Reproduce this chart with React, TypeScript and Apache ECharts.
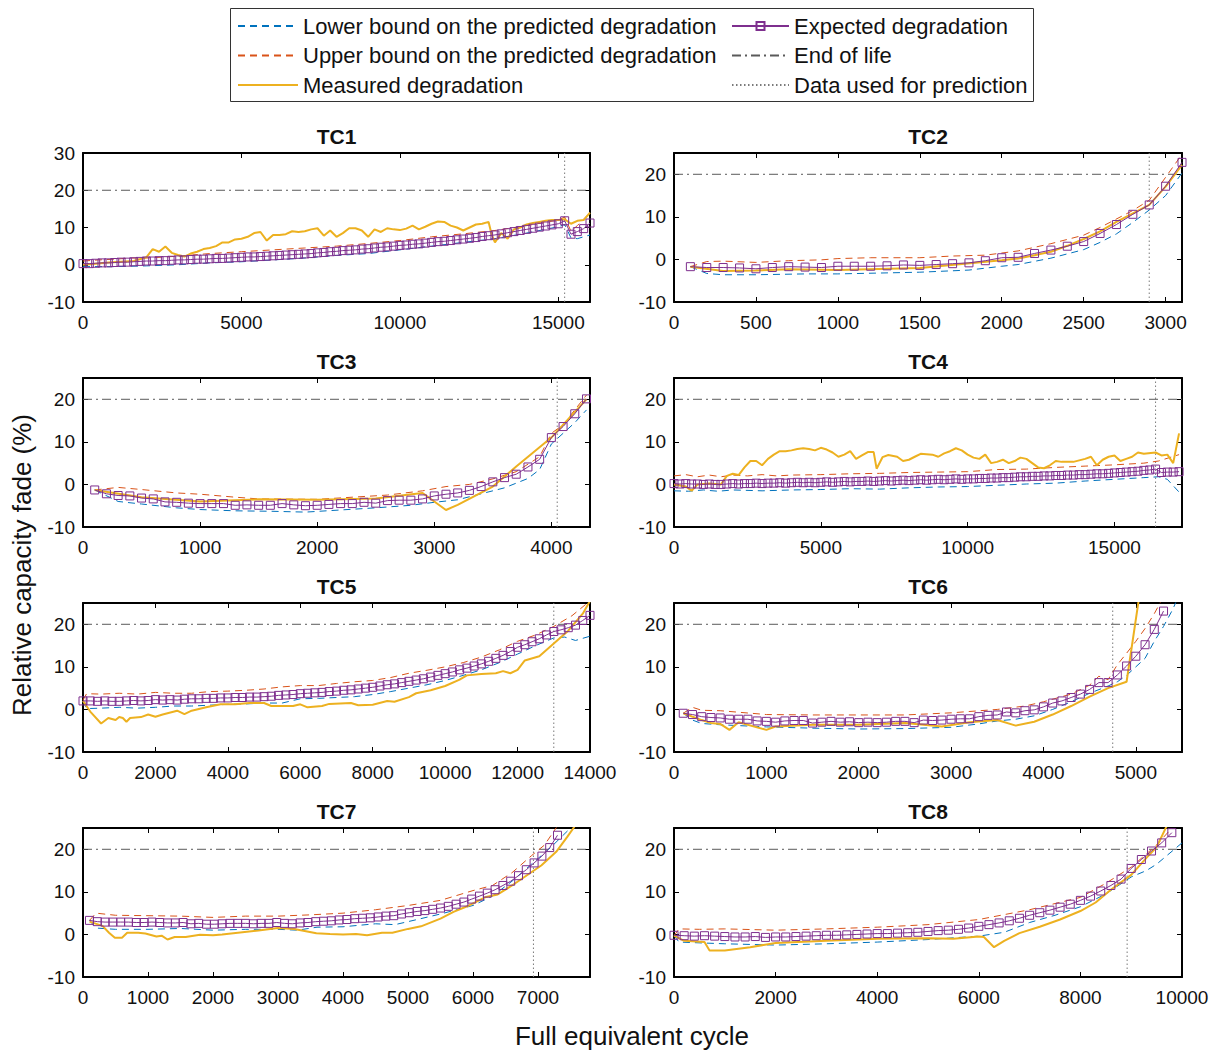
import React, { useEffect, useRef } from 'react';
import * as echarts from 'echarts';

const FONT = 'Liberation Sans, Arial, sans-serif';

const TITLES = ['TC1', 'TC2', 'TC3', 'TC4', 'TC5', 'TC6', 'TC7', 'TC8'];
const X_MAX = [16000, 3100, 4330, 17300, 14000, 5500, 7800, 10000];
const X_INTERVAL = [5000, 500, 1000, 5000, 2000, 1000, 1000, 2000];
const Y_MAX = [30, 25, 25, 25, 25, 25, 25, 25];
const Y_MIN = -10;
const Y_INTERVAL = 10;
const PRED_CUTOFF = [15200, 2900, 4050, 16400, 13000, 4750, 6930, 8920];
const END_OF_LIFE = 20;

const N_LOW = 'Lower bound on the predicted degradation';
const N_UP = 'Upper bound on the predicted degradation';
const N_MEAS = 'Measured degradation';
const N_EXP = 'Expected degradation';
const N_EOL = 'End of life';
const N_CUT = 'Data used for prediction';

// ---------- Expected degradation (regular cycle grid: start, step) ----------
const EXP_START = [0, 100, 100, 0, 0, 100, 100, 0];
const EXP_STEP = [200, 100, 100, 200, 200, 100, 120, 200];

const TC1_EXP = [
  0.3, 0.3, 0.4, 0.5, 0.5, 0.6, 0.7, 0.7, 0.8, 0.9, 1.0,
  1.0, 1.1, 1.1, 1.2, 1.3, 1.3, 1.4, 1.5, 1.5, 1.6, 1.7, 1.7, 1.8, 1.9, 2.0,
  2.1, 2.1, 2.2, 2.3, 2.4, 2.5, 2.6, 2.7, 2.8, 2.9, 3.0, 3.2,
  3.3, 3.5, 3.6, 3.8, 3.9, 4.0, 4.2, 4.3, 4.5, 4.7, 4.8, 5.0, 5.2,
  5.3, 5.5, 5.6, 5.8, 6.0, 6.2, 6.3, 6.5, 6.7, 6.9, 7.1, 7.3,
  7.6, 7.8, 8.0, 8.3, 8.6, 8.9, 9.2, 9.5, 9.8, 10.1, 10.4, 10.7, 11.0, 11.8,
  8.2, 8.9, 9.7, 11.2,
];
const TC2_EXP = [
  -1.7, -1.9, -1.9, -2.0, -2.2, -1.9, -1.7, -1.8, -1.9, -1.6, -1.6, -1.6, -1.5, -1.3, -1.4, -1.2,
  -1.0, -0.8, -0.3, 0.4, 0.5, 1.4, 2.2, 3.1, 4.2, 6.1, 8.2, 10.6, 12.8, 17.2, 22.8,
];
const TC3_EXP = [
  -1.3, -2.2, -2.6, -2.7, -3.2, -3.4, -4.1, -4.2, -4.4, -4.5, -4.5, -4.5, -4.9, -4.8, -4.9, -4.9,
  -4.5, -4.8, -5.0, -4.9, -4.7, -4.5, -4.5, -4.2, -4.4, -3.8, -3.7, -3.7, -3.4, -2.7, -2.3, -2.0,
  -1.4, -0.5, 0.6, 1.6, 2.4, 4.1, 5.9, 11.0, 13.6, 16.6, 20.1,
];
const TC4_EXP = [
  0.2, 0.1, 0.2, 0.1, 0.1, 0.0, 0.1, 0.0, 0.0,
  0.1, 0.2, 0.1, 0.2, 0.2, 0.3, 0.2, 0.3, 0.3, 0.4, 0.3, 0.4, 0.5, 0.4, 0.5, 0.4, 0.5,
  0.6, 0.5, 0.6, 0.7, 0.6, 0.7, 0.7, 0.8, 0.7, 0.8, 0.9, 0.8, 0.9, 1.0, 0.9, 1.0, 1.1, 1.0, 1.1, 1.2, 1.1, 1.2, 1.3, 1.2, 1.3,
  1.3, 1.4, 1.4, 1.5, 1.5, 1.6, 1.6, 1.7, 1.8, 1.8, 1.9, 1.9, 2.0, 2.0, 2.1, 2.1, 2.2, 2.2, 2.3, 2.3, 2.4, 2.5, 2.5, 2.6, 2.7,
  2.8, 2.9, 3.0, 3.1, 3.3, 3.4, 3.6,
  2.8, 2.9, 2.9, 3.0,
];
const TC5_EXP = [
  2.0, 2.0, 1.9, 2.0, 1.9, 1.9,
  2.0, 2.1, 2.0, 2.1, 2.3,
  2.2, 2.3, 2.2, 2.4, 2.5,
  2.5, 2.6, 2.6, 2.7, 2.7,
  2.8, 2.8, 2.9, 2.9, 3.0,
  3.1, 3.3, 3.4, 3.5, 3.7,
  3.8, 3.9, 4.0, 4.2, 4.3,
  4.5, 4.6, 4.8, 5.0, 5.2,
  5.5, 5.8, 6.0, 6.3, 6.6,
  6.9, 7.2, 7.6, 8.0, 8.4,
  8.8, 9.3, 9.7, 10.2, 10.7,
  11.3, 12.0, 12.7, 13.6, 14.6,
  15.2, 15.9, 16.6, 17.5, 18.3,
  18.7, 19.2, 19.8, 20.9, 22.1,
];
const TC6_EXP = [
  -0.9, -1.2, -1.7, -1.9, -2.0, -2.3, -2.3, -2.3, -2.7, -2.8, -3.0, -2.7, -2.6, -2.6, -3.2, -3.0,
  -2.8, -3.0, -2.9, -3.1, -3.0, -3.1, -3.0, -2.8, -2.8, -3.1, -2.5, -2.6, -2.5, -2.3, -2.2, -2.2,
  -1.7, -1.4, -1.3, -0.6, -0.8, -0.3, -0.1, 0.6, 1.5, 2.0, 2.8, 3.6, 4.7, 6.3, 6.3, 8.1, 10.2,
  12.5, 15.2, 18.8, 23.1,
];
const TC7_EXP = [
  3.3, 3.0, 2.9, 2.9, 2.9, 2.9, 2.8, 2.8, 2.9, 2.8, 2.7, 2.7, 2.8, 2.5, 2.6, 2.4,
  2.4, 2.5, 2.6, 2.6, 2.6, 2.5, 2.6, 2.6, 2.8, 2.6, 2.5, 2.7, 2.8, 3.0, 3.1, 3.2,
  3.4, 3.5, 3.7, 3.8, 3.9, 4.1, 4.3, 4.4, 4.8, 5.1, 5.4, 5.6, 5.9, 6.2, 6.6, 7.1,
  7.6, 8.3, 9.0, 9.7, 10.5, 11.5, 12.5, 13.8, 15.2, 16.8, 18.4, 20.4, 23.3,
];
const TC8_EXP = [
  -0.2, -0.3, -0.4, -0.3, -0.4, -0.5,
  -0.6, -0.6, -0.5, -0.7, -0.6,
  -0.6, -0.5, -0.4, -0.3, -0.2,
  -0.2, -0.1, 0.0, 0.1, 0.2,
  0.2, 0.3, 0.4, 0.5, 0.7,
  0.9, 1.0, 1.2, 1.5, 1.9,
  2.3, 2.7, 3.2, 3.8, 4.5,
  5.1, 5.7, 6.4, 7.1, 8.0,
  9.0, 10.2, 11.5, 13.0, 15.5,
  17.6, 19.6, 21.5, 23.9,
];

// ---------- Lower bound [cycle, %] ----------
const TC1_LOW = [[0, -0.5], [1000, -0.5], [2000, -0.3], [3000, 0], [4000, 0.5], [5000, 0.8], [6000, 1.3], [7000, 1.8], [8000, 2.5], [9000, 3.0], [10000, 4.0], [11000, 5.0], [12000, 6.0], [13000, 7.0], [14000, 8.5], [15000, 10.2], [15200, 10.8], [15400, 7.2], [15600, 7], [16000, 8]];
const TC2_LOW = [[100, -1.7], [200, -3.3], [300, -3.6], [500, -3.6], [800, -3.4], [1000, -3.4], [1500, -3.0], [1800, -2.5], [2000, -1.6], [2100, -1.2], [2300, 0.3], [2500, 2.3], [2600, 4.0], [2700, 6.0], [2800, 8.7], [2900, 11.6], [3000, 15], [3100, 20.3]];
const TC3_LOW = [[100, -1.3], [300, -4.0], [500, -4.6], [800, -5.5], [1000, -5.9], [1300, -6.2], [1600, -6.3], [1900, -6.5], [2200, -6.0], [2500, -5.5], [2800, -4.9], [3000, -4.2], [3200, -3.6], [3400, -2.2], [3600, -0.8], [3800, 1.4], [3900, 3.5], [4000, 9.5], [4100, 12], [4200, 14.5], [4300, 17.5]];
const TC4_LOW = [[0, -1.5], [500, -1.6], [1000, -1.3], [1500, -1.6], [2000, -1.3], [3000, -1.5], [4000, -1.3], [5000, -1.2], [6000, -1.0], [7000, -1.1], [8000, -0.8], [9000, -0.6], [10000, -0.5], [11000, -0.2], [12000, 0.1], [13000, 0.3], [14000, 0.8], [15000, 1.2], [16000, 1.6], [16500, 1.8], [16800, 1.2], [17200, -1.8]];
const TC5_LOW = [[0, 2.0], [100, 0.2], [500, 0.3], [1000, 0.5], [1500, 0.3], [2000, 0.5], [2500, 0.8], [3000, 0.8], [3500, 1.0], [4000, 1.2], [4500, 1.3], [5000, 1.5], [5500, 1.5], [6000, 2.5], [6500, 2.6], [7000, 2.8], [7500, 3.0], [8000, 3.5], [8500, 4.2], [9000, 5], [9500, 5.8], [10000, 6.8], [10500, 8], [11000, 9.3], [11500, 11], [12000, 13], [12500, 15], [13000, 16.8], [13300, 17], [13600, 16.2], [14000, 17.2]];
const TC6_LOW = [[100, -0.9], [200, -2.5], [300, -3.3], [500, -3.6], [1000, -4.1], [1500, -4.4], [2000, -4.6], [2500, -4.5], [3000, -4.2], [3300, -3.4], [3500, -2.7], [3700, -2.3], [3900, -1.5], [4100, 0], [4300, 1.8], [4500, 3.8], [4700, 5.5], [4800, 6.5], [4900, 8.0], [5000, 10], [5100, 12], [5200, 16], [5300, 19.5], [5400, 23.5], [5450, 26]];
const TC7_LOW = [[100, 3.3], [200, 1.5], [500, 1.2], [1000, 1.2], [1500, 1.4], [2000, 1.0], [2500, 1.2], [3000, 1.2], [3300, 1.0], [3600, 1.7], [4000, 1.8], [4500, 2.5], [4800, 2.3], [5000, 3.0], [5500, 4.8], [6000, 6.8], [6300, 9.0], [6600, 12.5], [6900, 16.5], [7200, 20.5], [7500, 25]];
const TC8_LOW = [[0, -0.3], [100, -1.8], [1000, -2.2], [2000, -2.5], [3000, -2.2], [4000, -1.8], [5000, -1.2], [6000, -0.4], [6500, 0.5], [7000, 2.8], [7500, 4.5], [8000, 6.5], [8500, 9.5], [9000, 13.5], [9300, 15], [9500, 16.5], [10000, 21.5]];

// ---------- Upper bound [cycle, %] ----------
const TC1_UP = [[0, 1.0], [500, 1.3], [1000, 1.5], [1500, 1.8], [2000, 1.8], [3000, 2.3], [4000, 3.0], [5000, 3.5], [6000, 4.0], [7000, 4.5], [8000, 5.0], [9000, 5.7], [10000, 6.5], [11000, 7.5], [12000, 8.3], [13000, 9.2], [14000, 10.5], [15000, 12], [15200, 12.8], [15400, 9], [15600, 10.5], [16000, 14]];
const TC2_UP = [[100, -1.7], [200, -0.5], [300, -0.4], [500, -0.7], [700, -0.3], [900, -0.1], [1000, 0.2], [1200, 0.4], [1500, 0.4], [1700, 0.8], [1900, 1.0], [2000, 1.5], [2100, 2.0], [2300, 3.7], [2500, 5.7], [2600, 7.5], [2800, 11.5], [2900, 13.9], [3000, 19.3], [3100, 24.7]];
const TC3_UP = [[100, -1.3], [300, -0.7], [500, -1.2], [800, -2.0], [1000, -2.3], [1300, -3.0], [1500, -3.4], [2000, -3.5], [2300, -3.0], [2600, -2.5], [2900, -1.5], [3100, -0.5], [3300, 0], [3500, 1.3], [3700, 3.0], [3900, 6.5], [4000, 12], [4100, 14], [4200, 17.5], [4300, 21]];
const TC4_UP = [[0, 2.0], [400, 2.3], [800, 1.8], [1200, 2.2], [1600, 1.8], [2000, 2.2], [2500, 2.0], [3000, 2.3], [3500, 2.0], [4000, 2.2], [5000, 2.3], [6000, 2.5], [7000, 2.6], [8000, 2.8], [9000, 2.9], [10000, 3.0], [11000, 3.5], [12000, 3.6], [13000, 4.0], [14000, 4.3], [15000, 4.6], [16000, 5.0], [16500, 5.5], [17200, 7.0]];
const TC5_UP = [[0, 2.2], [100, 3.7], [500, 3.6], [1000, 3.8], [1500, 3.6], [2000, 4.0], [2500, 3.8], [3000, 3.8], [3500, 4.2], [4000, 4.3], [4500, 4.5], [5000, 4.8], [5500, 5.3], [6000, 5.6], [6500, 5.6], [7000, 6.1], [7500, 6.5], [8000, 6.8], [8500, 7.5], [9000, 8.5], [9500, 9.2], [10000, 10], [10500, 11], [11000, 12.3], [11500, 14], [12000, 16], [12500, 17.5], [13000, 19.5], [13500, 22], [14000, 25.5]];
const TC6_UP = [[100, -0.9], [200, 0.5], [300, -0.2], [500, -0.3], [1000, -1.2], [1500, -1.3], [2000, -1.3], [2500, -1.3], [3000, -0.8], [3500, 0], [3800, 0.8], [4000, 1.8], [4300, 3.6], [4500, 5.7], [4600, 7.8], [4700, 7.0], [4800, 10.5], [4900, 13.2], [5000, 16], [5100, 19], [5200, 22.5], [5300, 26.5]];
const TC7_UP = [[100, 3.3], [200, 5.0], [500, 4.5], [1000, 4.4], [1500, 4.3], [2000, 4.0], [2500, 4.3], [3000, 4.3], [3500, 4.6], [4000, 5.0], [4500, 5.8], [5000, 6.8], [5500, 8.0], [6000, 10.3], [6300, 11.5], [6600, 14.5], [6900, 18.5], [7100, 21], [7300, 25.5]];
const TC8_UP = [[0, -0.3], [100, 1.3], [500, 1.2], [1000, 1.3], [2000, 1.0], [3000, 1.3], [4000, 1.7], [5000, 2.3], [6000, 3.5], [7000, 5.8], [8000, 8.7], [8500, 12], [9000, 15.8], [9500, 21], [9800, 25]];

// ---------- Measured degradation [cycle, %] ----------
const TC1_MEAS = [[0, 0], [400, 0.3], [800, 0.6], [1200, 0.8], [1600, 1], [2000, 2], [2200, 4.2], [2400, 3.5], [2600, 4.9], [2800, 3.2], [3000, 2.6], [3200, 2.2], [3400, 3], [3600, 3.5], [3800, 4.2], [4000, 4.5], [4200, 5], [4400, 6], [4600, 6], [4800, 6.8], [5000, 7], [5200, 7.5], [5400, 8.5], [5600, 8.8], [5800, 6.5], [6000, 8], [6200, 8], [6400, 8.2], [6600, 9], [6800, 8.8], [7000, 9], [7200, 9.5], [7400, 9.8], [7600, 7.8], [7800, 9.2], [8000, 7.5], [8200, 8.5], [8400, 9.8], [8600, 9.8], [8800, 9.2], [9000, 7.5], [9200, 9.5], [9400, 8.8], [9600, 9.8], [9800, 9.5], [10000, 9.3], [10200, 9.7], [10400, 10.5], [10600, 9.5], [10800, 10.2], [11000, 11], [11200, 11.6], [11400, 11.5], [11600, 10.5], [11800, 10], [12000, 9.2], [12200, 10], [12400, 10.8], [12600, 11], [12800, 11.5], [12900, 8], [13000, 6], [13200, 8.5], [13400, 7], [13600, 9.5], [13800, 10], [14000, 10.8], [14200, 11.2], [14400, 11.5], [14600, 11.8], [14800, 12], [15000, 12], [15200, 12.2], [15400, 11], [15600, 11.8], [15800, 12], [16000, 14]];
const TC2_MEAS = [[100, -1.7], [300, -2.7], [500, -2.6], [700, -2.3], [1000, -2.5], [1500, -2.0], [2000, -0.2], [2100, 0.2], [2200, 1.0], [2300, 1.8], [2400, 3.2], [2500, 4.8], [2600, 6.6], [2700, 8.8], [2800, 10.8], [2900, 12.8], [3000, 17.1], [3100, 22.2]];
const TC3_MEAS = [[100, -1.3], [500, -3.0], [1000, -4.0], [1500, -3.5], [2000, -3.6], [2500, -3.3], [2900, -2.0], [3100, -6.0], [3200, -4.8], [3500, -0.5], [3700, 4.2], [4000, 11.0], [4300, 20]];
const TC4_MEAS = [[0, 0], [400, -0.5], [600, -1.5], [800, 0], [1200, 0.2], [1600, 0], [1800, 2], [2000, 2.5], [2200, 2.2], [2400, 4], [2600, 5.5], [2800, 5.5], [3000, 4.5], [3200, 6], [3400, 7], [3600, 7.8], [3800, 7.8], [4000, 8], [4200, 8.3], [4400, 8.5], [4600, 8.3], [4800, 8], [5000, 8.6], [5200, 8.2], [5400, 7.5], [5600, 6.5], [5800, 7], [6000, 7.8], [6200, 6], [6400, 6.8], [6600, 7.6], [6800, 7.6], [6900, 3.7], [7100, 6.4], [7300, 6.9], [7600, 6.5], [7800, 5.5], [8000, 5.8], [8200, 6.5], [8400, 7.2], [8600, 7.1], [8800, 7], [9000, 6.5], [9200, 7.3], [9400, 7.8], [9600, 8.5], [9800, 8], [10000, 7], [10200, 6.3], [10400, 6], [10600, 7], [10800, 5], [11000, 5.3], [11200, 5.8], [11400, 5], [11600, 5.5], [11800, 6.3], [12000, 6], [12200, 5], [12400, 4], [12600, 3.8], [12800, 4.5], [13000, 5.5], [13200, 5.3], [13600, 5.3], [14000, 6], [14200, 6.5], [14400, 4.5], [14600, 5.8], [14800, 6.5], [15000, 6.8], [15200, 5.5], [15400, 6], [15600, 6.5], [15800, 7.5], [16000, 7.2], [16400, 7.5], [16600, 6.8], [16800, 7], [17000, 5], [17200, 12]];
const TC5_MEAS = [[0, 2], [200, -0.5], [500, -3.3], [700, -2], [900, -2.5], [1000, -1.8], [1100, -2], [1200, -2.9], [1300, -2], [1600, -1.8], [1800, -1.2], [2000, -1.7], [2200, -1.2], [2600, -0.3], [2800, -1.1], [3000, -0.3], [3400, 0.5], [3800, 1.2], [4200, 1.2], [4600, 1.5], [5000, 1.5], [5200, 0.8], [5800, 0.8], [6000, 1.2], [6200, 0.5], [6600, 0.8], [6800, 1.3], [7400, 1.5], [7600, 1.0], [8000, 1.1], [8400, 2.0], [8600, 1.8], [9000, 2.9], [9200, 3.8], [9600, 4.5], [10000, 5.5], [10400, 7.0], [10600, 8.0], [11000, 8.3], [11400, 8.5], [11600, 9.0], [11800, 8.5], [12000, 9.3], [12200, 11.5], [12600, 12.5], [13000, 15.5], [13400, 18.5], [13800, 22.5], [14000, 25.5]];
const TC6_MEAS = [[100, -0.9], [300, -2.5], [400, -3.2], [500, -3.4], [600, -4.8], [700, -3.0], [1000, -4.8], [1100, -4.0], [1500, -3.6], [2000, -3.6], [2500, -3.2], [2900, -4.0], [3200, -3.0], [3500, -2.5], [3700, -3.8], [3900, -2.9], [4100, -1.2], [4300, 0.8], [4500, 3.0], [4700, 5.0], [4900, 6.5], [5030, 25.5]];
const TC7_MEAS = [[100, 3.0], [300, 2.0], [400, 0.4], [490, -0.8], [600, -0.8], [680, 0.4], [850, 0.4], [960, 0.2], [1130, -0.5], [1210, -0.3], [1300, -1.2], [1410, -0.6], [1580, -0.6], [1800, -0.1], [2000, -0.2], [2140, 0], [2700, 0.9], [3000, 1.5], [3250, 1.3], [3590, 0.3], [3800, 0.1], [4000, 0], [4200, 0.1], [4370, -0.2], [4600, 0.4], [4760, 0.4], [5000, 1.3], [5200, 1.9], [5500, 3.7], [5700, 5.3], [5940, 6.8], [6200, 8.8], [6380, 9.4], [6600, 11.5], [6830, 13.9], [7050, 16.2], [7280, 19.4], [7450, 22.9], [7560, 25.3]];
const TC8_MEAS = [[0, -0.3], [200, -1.5], [600, -1.8], [700, -3.8], [1000, -3.8], [1500, -3.0], [2000, -2.0], [3000, -1.5], [4000, -1.0], [5000, -0.9], [5500, -1.0], [6000, -0.5], [6100, -0.6], [6300, -3.0], [6500, -1.5], [6800, 0.3], [7200, 1.8], [7600, 3.5], [8000, 5.5], [8300, 7.5], [8600, 10.5], [9000, 14], [9300, 18], [9500, 20.5], [9700, 25.5]];

const EXP = [TC1_EXP, TC2_EXP, TC3_EXP, TC4_EXP, TC5_EXP, TC6_EXP, TC7_EXP, TC8_EXP];
const LOW = [TC1_LOW, TC2_LOW, TC3_LOW, TC4_LOW, TC5_LOW, TC6_LOW, TC7_LOW, TC8_LOW];
const UP = [TC1_UP, TC2_UP, TC3_UP, TC4_UP, TC5_UP, TC6_UP, TC7_UP, TC8_UP];
const MEAS = [TC1_MEAS, TC2_MEAS, TC3_MEAS, TC4_MEAS, TC5_MEAS, TC6_MEAS, TC7_MEAS, TC8_MEAS];

// ---------- Layout ----------
const COL_LEFT = [83, 674];
const COL_WIDTH = [507, 508];
const ROW_TOP = [153, 378, 603, 828];
const PLOT_H = 149;

const C_LOW = '#0072BD';
const C_UP = '#D95319';
const C_MEAS = '#EDB120';
const C_EXP = '#7E2F8E';
const C_EOL = '#5a5a5a';
const C_CUT = '#7a7a7a';

function buildOption(): any {
  const grids: any[] = [];
  const xAxes: any[] = [];
  const yAxes: any[] = [];
  const series: any[] = [];
  const graphics: any[] = [];

  const axisLine = { show: true, onZero: false, lineStyle: { color: '#000', width: 2 } };
  const axisTick = { show: true, inside: true, length: 5, lineStyle: { color: '#000', width: 1 } };

  for (let i = 0; i < 8; i++) {
    const col = i % 2;
    const row = Math.floor(i / 2);
    const left = COL_LEFT[col];
    const width = COL_WIDTH[col];
    const top = ROW_TOP[row];
    grids.push({ left, top, width, height: PLOT_H, containLabel: false, show: false });

    const xi = X_INTERVAL[i];
    const xBase = { type: 'value', gridIndex: i, min: 0, max: X_MAX[i], interval: xi, splitLine: { show: false }, axisLine, axisTick };
    xAxes.push({
      ...xBase,
      position: 'bottom',
      axisLabel: {
        show: true, margin: 11, fontSize: 19, color: '#111', fontFamily: FONT,
        formatter: (v: number) => (v % xi === 0 ? String(v) : ''),
      },
    });
    xAxes.push({ ...xBase, position: 'top', axisLabel: { show: false } });

    const yBase = { type: 'value', gridIndex: i, min: Y_MIN, max: Y_MAX[i], interval: Y_INTERVAL, splitLine: { show: false }, axisLine, axisTick };
    yAxes.push({
      ...yBase,
      position: 'left',
      axisLabel: {
        show: true, margin: 8, fontSize: 19, color: '#111', fontFamily: FONT,
        formatter: (v: number) => (v % Y_INTERVAL === 0 ? String(v) : ''),
      },
    });
    yAxes.push({ ...yBase, position: 'right', axisLabel: { show: false } });

    const xa = 2 * i;
    const ya = 2 * i;
    const expData = EXP[i].map((v, k) => [EXP_START[i] + EXP_STEP[i] * k, v]);

    series.push({
      name: N_LOW, type: 'line', xAxisIndex: xa, yAxisIndex: ya, data: LOW[i], symbol: 'none',
      lineStyle: { color: C_LOW, width: 1, type: [7, 5] }, itemStyle: { color: C_LOW }, z: 2,
    });
    series.push({
      name: N_UP, type: 'line', xAxisIndex: xa, yAxisIndex: ya, data: UP[i], symbol: 'none',
      lineStyle: { color: C_UP, width: 1, type: [7, 5] }, itemStyle: { color: C_UP }, z: 2,
    });
    series.push({
      name: N_MEAS, type: 'line', xAxisIndex: xa, yAxisIndex: ya, data: MEAS[i], symbol: 'none',
      lineStyle: { color: C_MEAS, width: 2 }, itemStyle: { color: C_MEAS }, z: 3,
    });
    series.push({
      name: N_EXP, type: 'line', xAxisIndex: xa, yAxisIndex: ya, data: expData,
      symbol: 'rect', symbolSize: 8, showSymbol: true,
      lineStyle: { color: C_EXP, width: 1 },
      itemStyle: { color: 'rgba(255,255,255,0)', borderColor: C_EXP, borderWidth: 1 }, z: 4,
    });
    series.push({
      name: N_EOL, type: 'line', xAxisIndex: xa, yAxisIndex: ya,
      data: [[0, END_OF_LIFE], [X_MAX[i], END_OF_LIFE]], symbol: 'none',
      lineStyle: { color: C_EOL, width: 1, type: [9, 4, 2, 4] }, itemStyle: { color: C_EOL }, z: 1,
    });
    series.push({
      name: N_CUT, type: 'line', xAxisIndex: xa, yAxisIndex: ya,
      data: [[PRED_CUTOFF[i], Y_MIN], [PRED_CUTOFF[i], Y_MAX[i]]], symbol: 'none',
      lineStyle: { color: C_CUT, width: 1, type: [1.5, 2.5] }, itemStyle: { color: C_CUT }, z: 1,
    });

    graphics.push({
      type: 'text', x: left + width / 2, y: top - 17,
      style: { text: TITLES[i], font: `bold 21px ${FONT}`, fill: '#111', textAlign: 'center', textVerticalAlign: 'middle' },
    });
  }

  graphics.push({
    type: 'rect', shape: { x: 230.5, y: 8.5, width: 803, height: 93 }, z: -10,
    style: { fill: '#fff', stroke: '#333', lineWidth: 1 },
  });
  graphics.push({
    type: 'text', x: 22, y: 565, rotation: Math.PI / 2,
    style: { text: 'Relative capacity fade (%)', font: `26px ${FONT}`, fill: '#111', textAlign: 'center', textVerticalAlign: 'middle' },
  });
  graphics.push({
    type: 'text', x: 632, y: 1036,
    style: { text: 'Full equivalent cycle', font: `26px ${FONT}`, fill: '#111', textAlign: 'center', textVerticalAlign: 'middle' },
  });

  const legendText = { fontSize: 22, color: '#111', fontFamily: FONT, lineHeight: 22 };
  const hideSym = { itemStyle: { opacity: 0 } };

  return {
    animation: false,
    backgroundColor: '#fff',
    grid: grids,
    xAxis: xAxes,
    yAxis: yAxes,
    series,
    graphic: graphics,
    legend: [
      {
        data: [{ name: N_LOW, ...hideSym }, { name: N_UP, ...hideSym }, { name: N_MEAS, ...hideSym }],
        orient: 'vertical', left: 237, top: 15, padding: 0,
        itemWidth: 60, itemHeight: 10, itemGap: 7.5, textStyle: legendText, selectedMode: false,
      },
      {
        data: [{ name: N_EXP }, { name: N_EOL, ...hideSym }, { name: N_CUT, ...hideSym }],
        orient: 'vertical', left: 731, top: 15, padding: 0,
        itemWidth: 57, itemHeight: 10, itemGap: 7.5, textStyle: legendText, selectedMode: false,
      },
    ],
  };
}

export default function App() {
  const ref = useRef<HTMLDivElement>(null);
  useEffect(() => {
    if (!ref.current) return;
    const chart = echarts.init(ref.current, null, { renderer: 'svg' });
    chart.setOption(buildOption());
    return () => chart.dispose();
  }, []);
  return (
    <div
      ref={ref}
      style={{ position: 'fixed', left: 0, top: 0, width: 1218, height: 1051, background: '#fff' }}
    />
  );
}
